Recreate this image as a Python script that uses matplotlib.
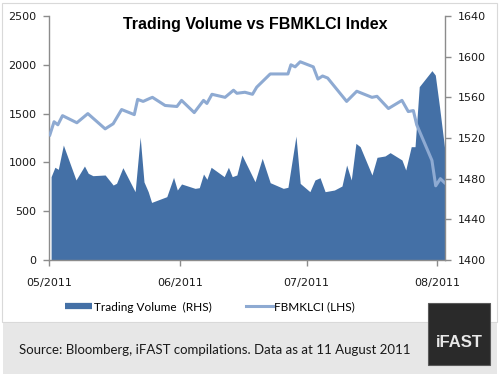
import matplotlib
matplotlib.use("Agg")
import matplotlib.pyplot as plt
from matplotlib.lines import Line2D
from matplotlib.patches import Rectangle

# days since 1 May 2011 and trading volume (left axis)
vol_days = [0.5, 1.4, 2.2, 3.4, 6.4, 8.4, 9.3, 10.4, 13.3, 15.2, 16.0, 17.5, 20.4, 21.6,
            22.5, 23.5, 24.3, 27.9, 29.5, 30.4, 31.4, 34.6, 35.6, 36.6, 37.4, 38.4, 41.5,
            42.5, 43.4, 44.5, 45.7, 48.8, 50.5, 52.4, 55.5, 56.6, 58.5, 59.5, 61.8, 63.0,
            64.2, 65.4, 67.6, 69.4, 70.5, 71.6, 72.7, 73.7, 76.5, 77.7, 79.6, 80.8, 83.6,
            84.5, 85.8, 86.7, 87.7, 90.7, 91.5, 92.5, 93.7]
volume = [854, 950, 929, 1178, 820, 963, 888, 864, 871, 768, 786, 946, 700, 1260,
          800, 700, 590, 649, 847, 717, 779, 734, 741, 881, 827, 950, 854,
          950, 854, 871, 1076, 802, 1042, 792, 734, 745, 1270, 785, 700, 820,
          843, 700, 717, 758, 973, 820, 1195, 1161, 871, 1052, 1066, 1100, 1025,
          922, 1161, 1161, 1776, 1940, 1895, 1570, 1150]

# FBMKLCI index (right axis)
idx_days = [0.2, 1.2, 2.1, 3.2, 6.6, 9.2, 13.3, 15.2, 17.2, 20.2, 21.0, 22.3, 23.9, 24.5,
            27.5, 30.3, 31.4, 34.4, 36.6, 37.4, 38.6, 41.7, 43.7, 44.5, 46.4, 48.2, 49.2,
            52.4, 56.6, 57.3, 58.3, 59.5, 62.6, 63.7, 64.8, 66.0, 70.5, 72.9, 76.5, 77.7,
            80.4, 83.6, 85.1, 86.3, 87.1, 90.7, 91.6, 92.7, 93.7]
fbmklci = [1523, 1536, 1533, 1542, 1535, 1544, 1529, 1534, 1548, 1543, 1558, 1556, 1559, 1560,
           1552, 1551, 1557, 1545, 1557, 1554, 1563, 1560, 1567, 1564, 1565, 1563, 1570,
           1583, 1583, 1592, 1590, 1595, 1590, 1578, 1581, 1579, 1556, 1566, 1560, 1561,
           1549, 1557, 1546, 1547, 1533, 1498, 1473, 1480, 1476]

month_pos = [0, 31, 61, 92]
month_labels = ["05/2011", "06/2011", "07/2011", "08/2011"]

area_col = "#4470a6"
line_col = "#8eaad2"
spine_col = "#8c8c8c"

fig = plt.figure(figsize=(5, 3.74), dpi=100)

# frame and grey footer (behind the axes)
fig.patches.append(Rectangle((0.004, 0.14), 0.99, 0.853, transform=fig.transFigure,
                             facecolor="white", edgecolor="#d9d9d9", lw=0.8, zorder=-2))
fig.patches.append(Rectangle((0.006, 0.0), 0.988, 0.137, transform=fig.transFigure,
                             facecolor="#e7e7e7", edgecolor="none", zorder=-2))

ax = fig.add_axes([0.098, 0.3048, 0.792, 0.6524])
ax.set_facecolor("none")
ax.fill_between(vol_days, volume, 0, color=area_col, lw=0)
ax.set_ylim(0, 2500)
ax.set_yticks(range(0, 2501, 500))
ax.set_xlim(0, 93.8)
ax.set_xticks(month_pos)
ax.set_xticklabels(month_labels)

ax2 = ax.twinx()
ax2.plot(idx_days, fbmklci, color=line_col, lw=2.2, solid_joinstyle="round")
ax2.set_ylim(1400, 1640)
ax2.set_yticks(range(1400, 1641, 40))

for a in (ax, ax2):
    for s in a.spines.values():
        s.set_color(spine_col)
        s.set_linewidth(1.0)
    a.spines["top"].set_visible(False)
    a.tick_params(colors=spine_col, length=4, width=1.0, labelsize=8, labelcolor="#1a1a1a",
                  pad=5)
ax.spines["right"].set_visible(False)
ax2.spines["left"].set_visible(False)
ax2.spines["bottom"].set_visible(False)
ax.tick_params(axis="x", pad=9)

fig.text(0.51, 0.935, "Trading Volume vs FBMKLCI Index", ha="center", va="center",
         fontsize=11.5, fontweight="bold", family="Liberation Sans")

handles = [Line2D([], [], color=area_col, lw=4.5, solid_capstyle="butt"),
           Line2D([], [], color=line_col, lw=2.2)]
fig.legend(handles, ["Trading Volume  (RHS)", "FBMKLCI (LHS)"], loc="center",
           bbox_to_anchor=(0.42, 0.179), ncol=2, frameon=False, handlelength=2.3,
           handletextpad=0.1, columnspacing=2.9, prop={"family": "Lato", "size": 8.5})

fig.text(0.038, 0.064, "Source: Bloomberg, iFAST compilations. Data as at 11 August 2011",
         ha="left", va="center", fontsize=9.5, family="Lato", color="#1a1a1a")

fig.patches.append(Rectangle((0.856, 0.024), 0.124, 0.166, transform=fig.transFigure,
                             facecolor="#2a2a2a", edgecolor="#5a5a5a", lw=0.8, zorder=3))
fig.text(0.918, 0.083, "iFAST", ha="center", va="center", fontsize=12, fontweight="bold",
         family="Liberation Sans", color="#e8e8e8", zorder=4)

fig.savefig("out.png", dpi=100)
